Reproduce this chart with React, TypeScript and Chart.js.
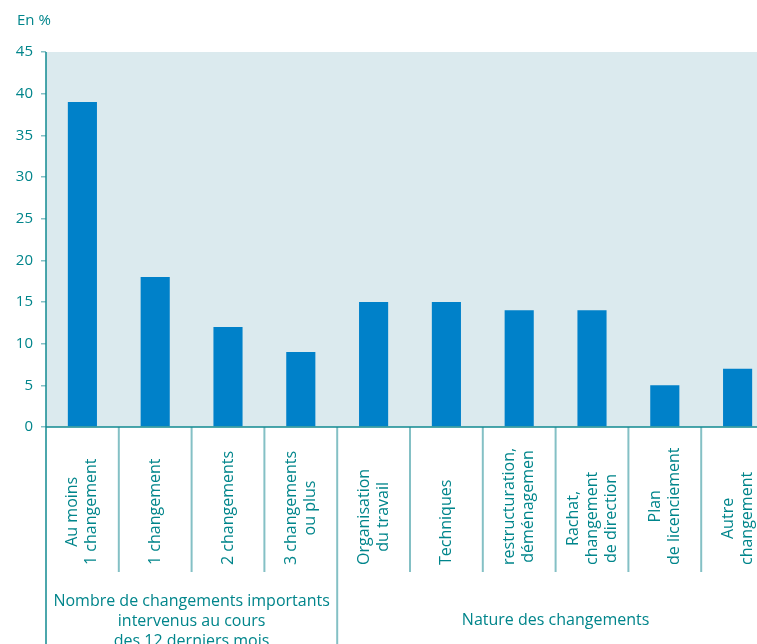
import React, { useEffect, useRef } from "react";
import { Chart, registerables } from "chart.js";

Chart.register(...registerables);

const categories: string[][] = [
  ["Au moins", "1 changement"],
  ["1 changement"],
  ["2 changements"],
  ["3 changements", "ou plus"],
  ["Organisation", "du travail"],
  ["Techniques"],
  ["restructuration,", "déménagemen"],
  ["Rachat,", "changement", "de direction"],
  ["Plan", "de licenciement"],
  ["Autre", "changement"],
];
const values = [39, 18, 12, 9, 15, 15, 14, 14, 5, 7];
const groupLabels: string[][] = [
  ["Nombre de changements importants", "intervenus au cours", "des 12 derniers mois"],
  ["Nature des changements"],
];
const groupStart = [0, 4];
const groupEnd = [3, 9];
const yMax = 45;
const yStep = 5;
const unitLabel = "En %";

const TEAL = "#00858b";
const AXIS = "#118a90";
const SEP = "#84c0c5";
const BG = "#dbeaee";
const BAR = "#0081c9";
const FONT = "'Open Sans', sans-serif";

const decorPlugin = {
  id: "decor",
  beforeDraw(chart: any) {
    const { ctx, chartArea } = chart;
    ctx.save();
    ctx.fillStyle = BG;
    ctx.fillRect(chartArea.left, chartArea.top, chartArea.right - chartArea.left, chartArea.bottom - chartArea.top);
    ctx.restore();
  },
  afterDraw(chart: any) {
    const { ctx, chartArea } = chart;
    const xs = chart.scales.x;
    const H = chart.height;
    ctx.save();
    // unit label
    ctx.fillStyle = TEAL;
    ctx.font = `15px ${FONT}`;
    ctx.textAlign = "left";
    ctx.textBaseline = "middle";
    ctx.fillText(unitLabel, 17, 21);

    // separators
    const sepBottom = 572;
    ctx.strokeStyle = SEP;
    ctx.lineWidth = 2;
    for (let i = 0; i < categories.length - 1; i++) {
      const x = (xs.getPixelForValue(i) + xs.getPixelForValue(i + 1)) / 2;
      const isGroup = groupEnd.includes(i);
      ctx.beginPath();
      ctx.moveTo(x, chartArea.bottom);
      ctx.lineTo(x, isGroup ? H : sepBottom);
      ctx.stroke();
    }
    // axes
    ctx.strokeStyle = AXIS;
    ctx.lineWidth = 1.5;
    ctx.beginPath();
    ctx.moveTo(chartArea.left, chartArea.top);
    ctx.lineTo(chartArea.left, H);
    ctx.stroke();
    ctx.beginPath();
    ctx.moveTo(chartArea.left, chartArea.bottom);
    ctx.lineTo(chartArea.right, chartArea.bottom);
    ctx.stroke();

    // category labels (rotated)
    ctx.fillStyle = TEAL;
    ctx.font = `16px ${FONT}`;
    ctx.textAlign = "center";
    ctx.textBaseline = "middle";
    const lh = 19;
    categories.forEach((lines, i) => {
      const x = xs.getPixelForValue(i);
      const maxW = Math.max(...lines.map((l) => ctx.measureText(l).width));
      ctx.save();
      ctx.translate(x, 565);
      ctx.rotate(-Math.PI / 2);
      lines.forEach((l, k) => {
        ctx.fillText(l, maxW / 2, (k - (lines.length - 1) / 2) * lh);
      });
      ctx.restore();
    });

    // group labels
    ctx.font = `16px ${FONT}`;
    groupLabels.forEach((lines, g) => {
      const half = (xs.getPixelForValue(1) - xs.getPixelForValue(0)) / 2;
      const a = xs.getPixelForValue(groupStart[g]) - half;
      const b = xs.getPixelForValue(groupEnd[g]) + half;
      const cx = (a + b) / 2;
      const startY = lines.length > 1 ? 601 : 620;
      lines.forEach((l, k) => {
        ctx.fillText(l, cx, startY + k * 20);
      });
    });
    ctx.restore();
  },
};

export default function App() {
  const ref = useRef<HTMLCanvasElement>(null);
  useEffect(() => {
    if (!ref.current) return;
    const chart = new Chart(ref.current, {
      type: "bar",
      data: {
        labels: categories.map((c) => c.join(" ")),
        datasets: [
          {
            data: values,
            backgroundColor: BAR,
            barPercentage: 0.4,
            categoryPercentage: 1,
          },
        ],
      },
      options: {
        responsive: false,
        animation: false,
        devicePixelRatio: 1,
        layout: { padding: { top: 52, bottom: 217, left: 0, right: 0 } },
        plugins: { legend: { display: false }, tooltip: { enabled: false } },
        scales: {
          x: { display: false },
          y: {
            min: 0,
            max: yMax,
            afterFit: (scale: any) => {
              scale.width = 46;
            },
            border: { display: false },
            grid: { drawOnChartArea: false, drawTicks: true, tickLength: 5, tickColor: SEP, lineWidth: 1.5 },
            ticks: {
              stepSize: yStep,
              padding: 8,
              color: TEAL,
              font: { family: FONT, size: 15 },
            },
          },
        },
      },
      plugins: [decorPlugin],
    });
    return () => chart.destroy();
  }, []);
  return (
    <div style={{ position: "fixed", left: 0, top: 0, width: 757, height: 644, overflow: "hidden", background: "#fff" }}>
      <canvas ref={ref} width={774} height={644} style={{ display: "block", width: 774, height: 644 }} />
    </div>
  );
}
